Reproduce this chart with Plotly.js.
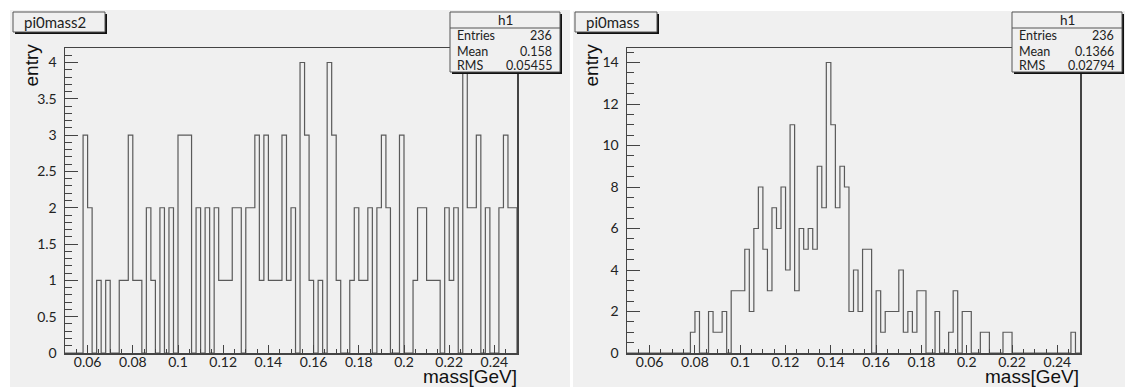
<!DOCTYPE html>
<html>
<head>
<meta charset="utf-8">
<script src="https://cdn.plot.ly/plotly-3.0.1.min.js"></script>
<style>
  html, body { margin: 0; padding: 0; background: #ffffff; }
  #chart { width: 1125px; height: 387px; }
</style>
</head>
<body>
<div id="chart"></div>
<script>
// ---- data ----
const xMin = 0.05;
const xMax = 0.25;
const nBins = 100;

// pi0mass2 (left) bin contents, 100 bins from 0.05 to 0.25
const countsMass2 = [
  0, 0, 0, 0, 3, 2, 0, 1, 0, 1,
  0, 0, 1, 1, 3, 1, 1, 0, 2, 1,
  0, 2, 0, 2, 0, 3, 3, 3, 0, 2,
  0, 2, 0, 2, 1, 1, 1, 2, 2, 0,
  2, 2, 3, 1, 3, 1, 1, 1, 3, 1,
  2, 0, 4, 3, 1, 0, 1, 0, 4, 3,
  1, 0, 0, 1, 2, 1, 1, 2, 0, 2,
  3, 2, 0, 0, 3, 0, 0, 1, 2, 2,
  1, 1, 1, 0, 2, 1, 2, 0, 4, 2,
  2, 3, 0, 2, 0, 0, 2, 3, 2, 2
];

// pi0mass (right) bin contents, 100 bins from 0.05 to 0.25
const countsMass = [
  0, 0, 0, 0, 0, 0, 0, 0, 0, 0,
  0, 0, 0, 0, 1, 2, 0, 0, 2, 1,
  1, 2, 0, 3, 3, 3, 5, 2, 6, 8,
  5, 3, 7, 6, 8, 4, 11, 3, 6, 5,
  6, 5, 9, 7, 14, 11, 7, 9, 8, 2,
  4, 2, 5, 5, 0, 3, 1, 2, 2, 2,
  4, 1, 2, 1, 3, 3, 0, 0, 2, 0,
  0, 1, 3, 0, 2, 2, 0, 0, 1, 1,
  0, 0, 0, 1, 1, 0, 0, 0, 0, 0,
  0, 0, 0, 0, 0, 0, 0, 0, 1, 0
];

const titleLeft = "pi0mass2";
const titleRight = "pi0mass";
const statsLabels = ["Entries", "Mean", "RMS"];
const statsLeft = ["236", "0.158", "0.05455"];
const statsRight = ["236", "0.1366", "0.02794"];
const statsName = "h1";
const yTitle = "entry";
const xTitle = "mass[GeV]";
const yMaxLeft = 4.2;
const yMaxRight = 14.7;

// ---- helpers ----
const W = 1125, H = 387;
const px = v => v / W;
const py = v => 1 - v / H;

function histOutline(counts) {
  const w = (xMax - xMin) / nBins;
  const xs = [xMin], ys = [0];
  for (let i = 0; i < counts.length; i++) {
    xs.push(xMin + i * w);
    ys.push(counts[i]);
  }
  xs.push(xMax); ys.push(0);
  return {xs, ys};
}

const hL = histOutline(countsMass2);
const hR = histOutline(countsMass);

const lineCol = '#5a5a5a';
const traces = [
  {x: hL.xs, y: hL.ys, xaxis: 'x', yaxis: 'y', type: 'scatter', mode: 'lines',
   line: {shape: 'hv', color: lineCol, width: 1.2}, hoverinfo: 'skip'},
  {x: hR.xs, y: hR.ys, xaxis: 'x2', yaxis: 'y2', type: 'scatter', mode: 'lines',
   line: {shape: 'hv', color: lineCol, width: 1.2}, hoverinfo: 'skip'}
];

const tickFont = {family: 'Lato, "Open Sans", sans-serif', size: 14, color: '#222'};

function xAxis(domain, anchor) {
  return {
    domain: domain, anchor: anchor, range: [xMin, xMax],
    tickmode: 'linear', tick0: 0.06, dtick: 0.02,
    ticks: 'inside', ticklen: 8, tickwidth: 1, tickcolor: '#444',
    minor: {tick0: 0.05, dtick: 0.005, ticks: 'inside', ticklen: 4, tickwidth: 1, tickcolor: '#444'},
    showline: true, linecolor: '#444', linewidth: 1.5, mirror: true,
    showgrid: false, zeroline: false, tickfont: tickFont,
    ticklabelstandoff: -4, fixedrange: true
  };
}
function yAxis(domain, anchor, ymax, dtick, minorDtick) {
  return {
    domain: domain, anchor: anchor, range: [0, ymax],
    tickmode: 'linear', tick0: 0, dtick: dtick,
    ticks: 'inside', ticklen: 13, tickwidth: 1, tickcolor: '#444',
    minor: {tick0: 0, dtick: minorDtick, ticks: 'inside', ticklen: 7, tickwidth: 1, tickcolor: '#444'},
    showline: true, linecolor: '#444', linewidth: 1.5, mirror: true,
    showgrid: false, zeroline: false, tickfont: tickFont,
    ticklabelstandoff: 4, fixedrange: true
  };
}

const yDom = [py(353), py(48)];
const bg = '#f0f0f0';

const shapes = [
  // pads
  {type: 'rect', xref: 'paper', yref: 'paper', x0: px(10), x1: px(570), y0: py(387), y1: py(10),
   fillcolor: bg, line: {width: 0}, layer: 'below'},
  {type: 'rect', xref: 'paper', yref: 'paper', x0: px(573), x1: px(1125), y0: py(387), y1: py(11),
   fillcolor: bg, line: {width: 0}, layer: 'below'},
];
const annotations = [];

function boxWithShadow(x0, y0, x1, y1, sh) {
  shapes.push({type: 'rect', xref: 'paper', yref: 'paper', x0: px(x0 + sh), x1: px(x1 + sh), y0: py(y1 + sh), y1: py(y0 + sh),
    fillcolor: '#111', line: {width: 0}, layer: 'above'});
  shapes.push({type: 'rect', xref: 'paper', yref: 'paper', x0: px(x0), x1: px(x1), y0: py(y1), y1: py(y0),
    fillcolor: bg, line: {width: 1, color: '#555'}, layer: 'above'});
}

function titleBox(x0, x1, text) {
  boxWithShadow(x0, 12, x1, 32, 2);
  annotations.push({xref: 'paper', yref: 'paper', x: px(x0 + 9), y: py(22), xanchor: 'left', yanchor: 'middle',
    text: text, showarrow: false, font: {family: 'Lato, "Open Sans", sans-serif', size: 15, color: '#222'}});
}

function statsBox(x0, x1, vals) {
  boxWithShadow(x0, 12, x1, 72, 2);
  shapes.push({type: 'line', xref: 'paper', yref: 'paper', x0: px(x0), x1: px(x1), y0: py(28), y1: py(28),
    line: {width: 1, color: '#555'}, layer: 'above'});
  const f = {family: 'Lato, "Open Sans", sans-serif', size: 12.5, color: '#222'};
  annotations.push({xref: 'paper', yref: 'paper', x: px((x0 + x1) / 2), y: py(20), xanchor: 'center', yanchor: 'middle',
    text: statsName, showarrow: false, font: {family: f.family, size: 13.5, color: '#222'}});
  const rows = [36, 51, 66];
  for (let i = 0; i < statsLabels.length; i++) {
    annotations.push({xref: 'paper', yref: 'paper', x: px(x0 + 5), y: py(rows[i]), xanchor: 'left', yanchor: 'middle',
      text: statsLabels[i], showarrow: false, font: f});
    annotations.push({xref: 'paper', yref: 'paper', x: px(x1 - 6), y: py(rows[i]), xanchor: 'right', yanchor: 'middle',
      text: vals[i], showarrow: false, font: f});
  }
}

titleBox(13, 105, titleLeft);
titleBox(575, 657, titleRight);
statsBox(450, 560, statsLeft);
statsBox(1012, 1122, statsRight);

// axis titles (ROOT style: at axis ends)
const axFont = {family: '"Liberation Sans", Arial, sans-serif', size: 19, color: '#111'};
annotations.push({xref: 'paper', yref: 'paper', x: px(31), y: py(42), xanchor: 'center', yanchor: 'top',
  text: yTitle, textangle: -90, showarrow: false, font: axFont});
annotations.push({xref: 'paper', yref: 'paper', x: px(591), y: py(42), xanchor: 'center', yanchor: 'top',
  text: yTitle, textangle: -90, showarrow: false, font: axFont});
annotations.push({xref: 'paper', yref: 'paper', x: px(519), y: py(389), xanchor: 'right', yanchor: 'bottom',
  text: xTitle, showarrow: false, font: axFont});
annotations.push({xref: 'paper', yref: 'paper', x: px(1081), y: py(389), xanchor: 'right', yanchor: 'bottom',
  text: xTitle, showarrow: false, font: axFont});

const layout = {
  width: W, height: H,
  margin: {l: 0, r: 0, t: 0, b: 0, pad: 0},
  paper_bgcolor: '#ffffff', plot_bgcolor: 'rgba(0,0,0,0)',
  showlegend: false,
  xaxis: xAxis([px(65), px(517)], 'y'),
  yaxis: yAxis(yDom, 'x', yMaxLeft, 0.5, 0.1),
  xaxis2: xAxis([px(627), px(1080)], 'y2'),
  yaxis2: yAxis(yDom, 'x2', yMaxRight, 2, 0.5),
  shapes: shapes,
  annotations: annotations
};

Plotly.newPlot('chart', traces, layout, {displayModeBar: false, staticPlot: true});
</script>
</body>
</html>
